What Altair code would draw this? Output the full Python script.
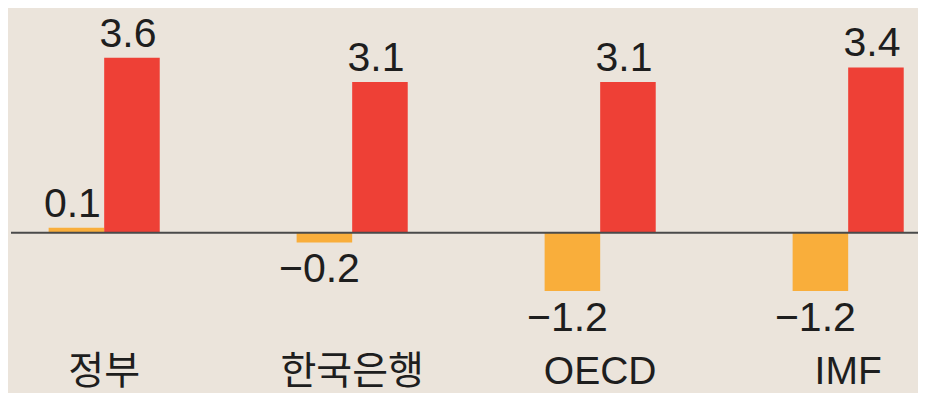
import altair as alt
import pandas as pd

categories = ["정부", "한국은행", "OECD", "IMF"]
series = ["2020년", "2021년"]
values_2020 = [0.1, -0.2, -1.2, -1.2]
values_2021 = [3.6, 3.1, 3.1, 3.4]
colors = ["#F9AE3B", "#EE4036"]

rows = []
for c, a, b in zip(categories, values_2020, values_2021):
    rows.append({"기관": c, "연도": series[0], "성장률": a})
    rows.append({"기관": c, "연도": series[1], "성장률": b})
df = pd.DataFrame(rows)
cat_df = pd.DataFrame({"기관": categories})
zero_df = pd.DataFrame({"y": [0]})

W, H = 910, 385
xscale = alt.Scale(domain=categories, paddingInner=0.552, paddingOuter=0.1107, align=0.74)
yscale = alt.Scale(domain=[-3.298, 4.623], nice=False, zero=False)
x = alt.X("기관:N", scale=xscale, axis=None, sort=categories)
xo = alt.XOffset("연도:N", scale=alt.Scale(domain=series, paddingInner=0, paddingOuter=0), sort=series)
y = alt.Y("성장률:Q", scale=yscale, axis=None)
color = alt.Color("연도:N", scale=alt.Scale(domain=series, range=colors), legend=None)

base = alt.Chart(df)
bars = base.mark_bar().encode(x=x, xOffset=xo, y=y, y2=alt.datum(0), color=color)

label_font = "Liberation Sans"
pos_labels = base.transform_filter("datum['성장률'] >= 0").mark_text(
    baseline="alphabetic", dy=-11, dx=-4, fontSize=41, font=label_font, color="#1e1e1e"
).encode(x=x, xOffset=xo, y=y, text=alt.Text("성장률:Q", format=".1f"))
neg_labels = base.transform_filter("datum['성장률'] < 0").mark_text(
    baseline="alphabetic", dy=40, dx=-5, fontSize=41, font=label_font, color="#1e1e1e"
).encode(x=x, xOffset=xo, y=y, text=alt.Text("성장률:Q", format=".1f"))

zero_line = alt.Chart(zero_df).mark_rule(color="#4a4a4a", strokeWidth=2).encode(
    y=alt.Y("y:Q", scale=yscale, axis=None), x=alt.value(3), x2=alt.value(W)
)

cat_labels = alt.Chart(cat_df).mark_text(
    baseline="alphabetic", fontSize=39, font="Liberation Sans, 'Noto Sans CJK KR'", color="#1e1e1e"
).encode(x=x, y=alt.value(376), text="기관:N")

chart = alt.layer(bars, zero_line, pos_labels, neg_labels, cat_labels).properties(
    width=W, height=H, background="#EBE4DB", padding=0, autosize=alt.AutoSizeParams(type="none")
).configure_view(stroke=None)

chart.save("out.html", embed_options={"renderer": "svg", "actions": False})
